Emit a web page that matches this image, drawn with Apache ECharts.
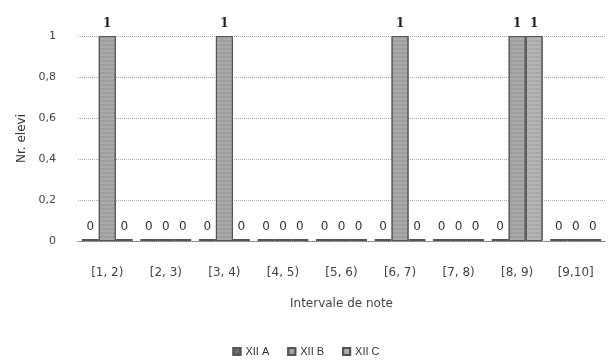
<!DOCTYPE html>
<html>
<head>
<meta charset="utf-8">
<script src="https://cdn.jsdelivr.net/npm/echarts@6/dist/echarts.min.js"></script>
<style>
  html, body { margin: 0; padding: 0; background: #fff; }
  #chart { width: 612px; height: 364px; }
</style>
</head>
<body>
<div id="chart"></div>
<script>
// intervale de note
var categories = ["[1, 2)", "[2, 3)", "[3, 4)", "[4, 5)", "[5, 6)", "[6, 7)", "[7, 8)", "[8, 9)", "[9,10]"];
var seriesNames = ["XII A", "XII B", "XII C"];
var dataA = [0, 0, 0, 0, 0, 0, 0, 0, 0];
var dataB = [1, 0, 1, 0, 0, 1, 0, 1, 0];
var dataC = [0, 0, 0, 0, 0, 0, 0, 1, 0];
var yTicks = ["0", "0,2", "0,4", "0,6", "0,8", "1"];

var chart = echarts.init(document.getElementById("chart"));

function makeSeries(name, data, color) {
  return {
    name: name,
    type: "bar",
    data: data,
    barGap: "0%",
    barCategoryGap: "13%",
    barMinHeight: 2,
    itemStyle: {
      color: color,
      borderColor: "#555",
      borderWidth: 1,
      decal: {
        symbol: "rect",
        symbolSize: 0.6,
        dashArrayX: [1, 0],
        dashArrayY: [2, 2],
        color: "rgba(60,60,60,0.35)"
      }
    },
    label: {
      show: true,
      position: "top",
      distance: 6,
      formatter: function(p) {
        // zero-urile sunt scrise altfel decat 1
        return p.value == 0 ? "{z|0}" : "{u|" + p.value + "}";
      },
      rich: {
        z: { fontFamily: "DejaVu Sans", fontSize: 12, color: "#333" },
        u: { fontFamily: "DejaVu Serif", fontSize: 12, fontWeight: "bold", color: "#222" }
      }
    }
  };
}

var option = {
  animation: false,
  grid: {
    left: 78,
    right: 7,
    top: 36,
    bottom: 123
  },
  legend: {
    bottom: 2,
    left: "center",
    itemWidth: 7,
    itemHeight: 7,
    itemGap: 18,
    icon: "rect",
    textStyle: {
      fontFamily: "Liberation Sans",
      fontSize: 11,
      color: "#333"
    },
    data: seriesNames
  },
  xAxis: {
    type: "category",
    data: categories,
    name: "Intervale de note",
    nameLocation: "middle",
    nameGap: 57,
    nameTextStyle: {
      fontFamily: "DejaVu Sans",
      fontSize: 12,
      color: "#444"
    },
    axisLine: { lineStyle: { color: "#777", type: "dotted" } },
    axisTick: { show: false },
    axisLabel: {
      fontFamily: "DejaVu Sans",
      fontSize: 12,
      color: "#444",
      margin: 26,
      interval: 0
    }
  },
  yAxis: {
    type: "value",
    min: 0,
    max: 1,
    interval: 0.2,
    name: "Nr. elevi",
    nameLocation: "middle",
    nameRotate: 90,
    nameGap: 50,
    nameTextStyle: {
      fontFamily: "DejaVu Sans",
      fontSize: 12,
      color: "#333"
    },
    axisLine: { show: false },
    axisTick: { show: false },
    splitLine: { lineStyle: { color: "#aaa", type: "dotted" } },
    axisLabel: {
      fontFamily: "DejaVu Sans",
      fontSize: 11,
      color: "#444",
      margin: 22,
      formatter: function(v) {
        return yTicks[Math.round(v * 5)];
      }
    }
  },
  series: [
    makeSeries(seriesNames[0], dataA, "#6e6e6e"),
    makeSeries(seriesNames[1], dataB, "#a9a9a9"),
    makeSeries(seriesNames[2], dataC, "#b4b4b4")
  ]
};

chart.setOption(option);
</script>
</body>
</html>
